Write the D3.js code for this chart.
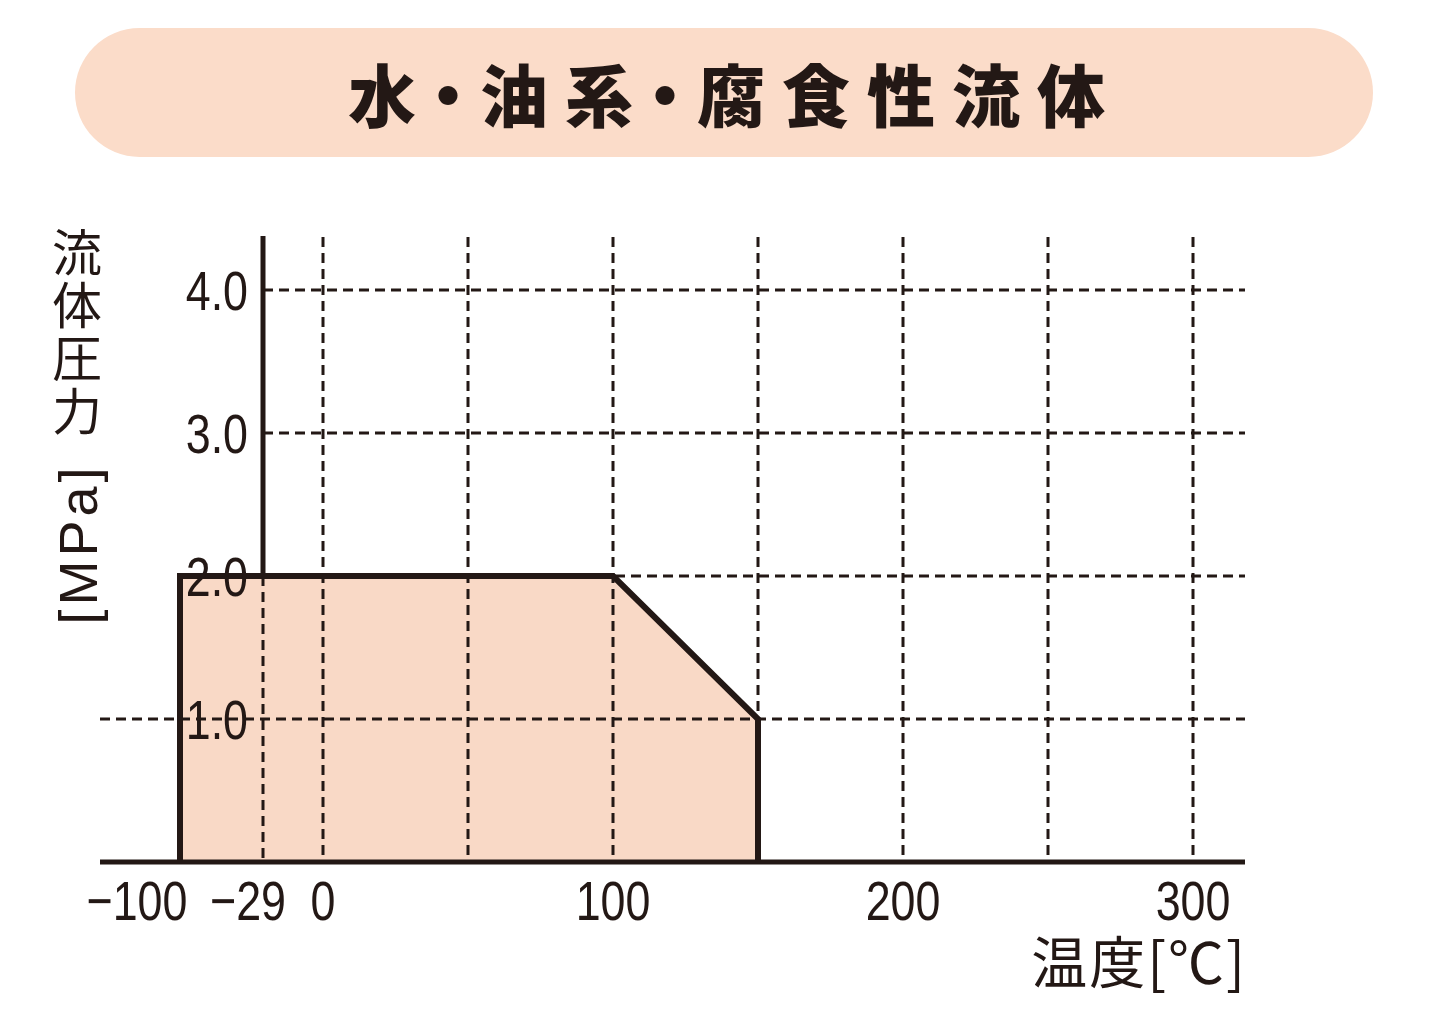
<!DOCTYPE html>
<html><head><meta charset="utf-8">
<script src="https://cdn.jsdelivr.net/npm/d3@7"></script>
<style>body{margin:0;background:#fff}svg{display:block}</style>
</head><body>
<svg id="c" width="1432" height="1016"></svg>
<script>
const title = "水・油系・腐食性流体";
const yLabelText = "流体圧力";
const yLabelUnit = "[MPa]";
const xLabel = "温度[℃]";
const xTickValues = [-100, -29, 0, 100, 200, 300];
const xTickLabels = ["−100", "−29", "0", "100", "200", "300"];
const xGridValues = [0, 50, 100, 150, 200, 250, 300];
const yTickValues = [1, 2, 3, 4];
const yTickLabels = ["1.0", "2.0", "3.0", "4.0"];
const regionTemp = [-100, -100, 100, 150, 150];
const regionPress = [0, 2, 2, 1, 0];

const ink = "#231815", fill = "#f9d9c6";
const svg = d3.select("#c");
const x = d3.scaleLinear().domain([-100, -29, 0, 300]).range([180, 263, 323, 1193]);
const y = d3.scaleLinear().domain([0, 4]).range([862, 290]);

// title pill
svg.append("rect").attr("x", 75).attr("y", 28).attr("width", 1298).attr("height", 129)
  .attr("rx", 64.5).attr("fill", "#fbdcc9");
const tt = svg.append("text").attr("y", 122).attr("text-anchor", "middle")
  .attr("font-family", "'Noto Sans CJK JP'").attr("font-weight", 900).attr("font-size", 68)
  .attr("fill", ink);
let cx = 382;
const chars = Array.from(title);
chars.forEach((c, i) => {
  tt.append("tspan").attr("x", cx).text(c);
  const nxt = chars[i + 1];
  cx += (c === "・" || nxt === "・") ? 66 : 85;
});

// region fill
const pts = regionTemp.map((t, i) => [x(t), y(regionPress[i])]);
svg.append("path").attr("d", d3.line()(pts) + "Z").attr("fill", fill);

// grid
const g = svg.append("g").attr("stroke", ink).attr("stroke-width", 3).attr("stroke-dasharray", "10,6");
xGridValues.forEach(v => g.append("line").attr("x1", x(v)).attr("x2", x(v)).attr("y1", 237).attr("y2", y(0)));
g.append("line").attr("x1", x(-29)).attr("x2", x(-29)).attr("y1", y(2)).attr("y2", y(0));
yTickValues.forEach(v => g.append("line").attr("x1", v === 1 ? 100 : x(-29)).attr("x2", 1245).attr("y1", y(v)).attr("y2", y(v)));

// axes
svg.append("line").attr("x1", x(-29)).attr("x2", x(-29)).attr("y1", 236).attr("y2", y(2))
  .attr("stroke", ink).attr("stroke-width", 5);
svg.append("line").attr("x1", 100).attr("x2", 1245).attr("y1", y(0)).attr("y2", y(0))
  .attr("stroke", ink).attr("stroke-width", 5);

// region outline
svg.append("path").attr("d", d3.line()(pts)).attr("fill", "none")
  .attr("stroke", ink).attr("stroke-width", 6).attr("stroke-linejoin", "miter");

const numFont = "'Liberation Sans', sans-serif";
function numText(px, py, anchor, s) {
  svg.append("text").attr("transform", `translate(${px},${py}) scale(0.8,1)`)
    .attr("text-anchor", anchor).attr("font-family", numFont).attr("font-size", 56)
    .attr("fill", ink).text(s);
}
// y tick labels
yTickValues.forEach((v, i) => numText(248, y(v) + 20, "end", yTickLabels[i]));
// x tick labels
const xShift = {"-100": -43, "-29": -15};
xTickValues.forEach((v, i) => numText(x(v) + (xShift[v] || 0), 920, "middle", xTickLabels[i]));

// y label: vertical writing
svg.append("text").attr("x", 77).attr("y", 227)
  .style("writing-mode", "vertical-rl").style("text-orientation", "upright")
  .attr("font-family", "'Noto Sans CJK JP'").attr("font-size", 50).attr("letter-spacing", 3)
  .attr("fill", ink).text(yLabelText);
svg.append("text").attr("transform", "translate(97,544) rotate(-90)")
  .attr("text-anchor", "middle").attr("font-family", "'Liberation Sans', sans-serif").attr("font-size", 54)
  .attr("letter-spacing", 4).attr("fill", ink).text(yLabelUnit);

// x label
svg.append("text").attr("x", 1247).attr("y", 983).attr("text-anchor", "end")
  .attr("font-family", "'Noto Sans CJK JP'").attr("font-size", 56).attr("letter-spacing", 2)
  .attr("fill", ink).text(xLabel);
</script>
</body></html>
